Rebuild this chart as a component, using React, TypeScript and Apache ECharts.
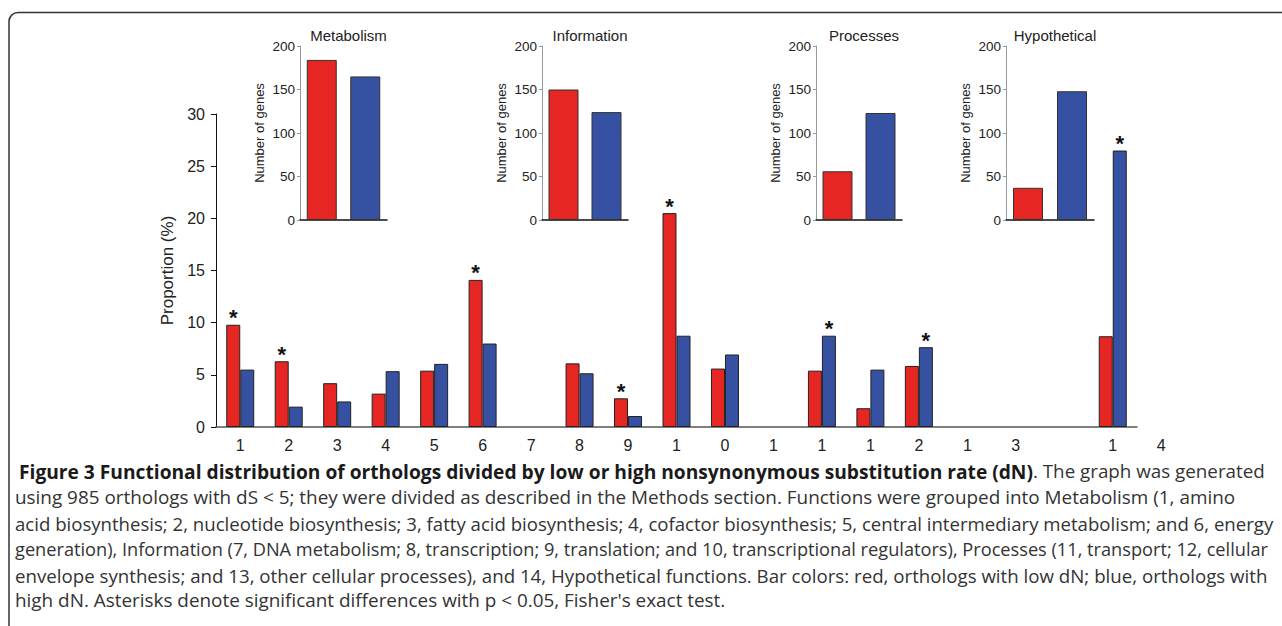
import React, { useEffect, useRef } from "react";
import * as echarts from "echarts";

// ---- Main chart data ----
const xTickLabels = ["1", "2", "3", "4", "5", "6", "7", "8", "9", "1", "0", "1", "1", "1", "2", "1", "3", "", "1"];
const extraTickLabel = "4";
const lowDN = [9.8, 6.3, 4.2, 3.2, 5.4, 14.1, null, 6.1, 2.75, 20.5, 5.6, null, 5.4, 1.8, 5.85, null, null, null, 8.7];
const highDN = [5.5, 1.95, 2.45, 5.35, 6.05, 8.0, null, 5.15, 1.05, 8.75, 6.95, null, 8.75, 5.5, 7.65, null, null, null, 26.5];
const sigLow = [0, 1, 5, 8, 9];
const sigHigh = [12, 14, 18];
const yTicks = { min: 0, max: 30, interval: 5 };

// ---- Inset data ----
const insetTitles = ["Metabolism", "Information", "Processes", "Hypothetical"];
const insetLow = [184, 150, 56, 37];
const insetHigh = [165, 124, 123, 148];
const insetTicks = { min: 0, max: 200, interval: 50 };

// ---- Caption ----
const captionBold = "Figure 3 Functional distribution of orthologs divided by low or high nonsynonymous substitution rate (dN)";
const captionLines = [
  ". The graph was generated",
  "using 985 orthologs with dS < 5; they were divided as described in the Methods section. Functions were grouped into Metabolism (1, amino",
  "acid biosynthesis; 2, nucleotide biosynthesis; 3, fatty acid biosynthesis; 4, cofactor biosynthesis; 5, central intermediary metabolism; and 6, energy",
  "generation), Information (7, DNA metabolism; 8, transcription; 9, translation; and 10, transcriptional regulators), Processes (11, transport; 12, cellular",
  "envelope synthesis; and 13, other cellular processes), and 14, Hypothetical functions. Bar colors: red, orthologs with low dN; blue, orthologs with",
  "high dN. Asterisks denote significant differences with p < 0.05, Fisher's exact test.",
];

const RED = "#E52623";
const BLUE = "#3651A1";
const FONT = "'Liberation Sans', Arial, sans-serif";
const CAPFONT = "'Open Sans', sans-serif";

export default function App() {
  const ref = useRef<HTMLDivElement>(null);
  useEffect(() => {
    document.body.style.margin = "0";
    const chart = echarts.init(ref.current!, null, { renderer: "svg" });

    const mainGrid = { left: 216, top: 114, width: 921, height: 313 };
    const insetGrids = [
      { left: 300, top: 46, width: 87, height: 174 },
      { left: 542, top: 46, width: 86, height: 174 },
      { left: 816, top: 46, width: 86, height: 174 },
      { left: 1006, top: 46, width: 88, height: 174 },
    ];

    const grids: any[] = [mainGrid, ...insetGrids];
    const xAxes: any[] = [
      {
        type: "category",
        gridIndex: 0,
        data: xTickLabels,
        axisLine: { lineStyle: { color: "#555", width: 1.5 } },
        axisTick: { show: false },
        axisLabel: { color: "#222", fontSize: 16, fontFamily: FONT, margin: 10, interval: 0 },
      },
    ];
    const yAxes: any[] = [
      {
        type: "value",
        gridIndex: 0,
        min: yTicks.min,
        max: yTicks.max,
        interval: yTicks.interval,
        name: "Proportion (%)",
        nameLocation: "middle",
        nameGap: 36,
        nameTextStyle: { color: "#222", fontSize: 17, fontFamily: FONT },
        axisLine: { show: true, lineStyle: { color: "#111", width: 1 } },
        axisTick: { show: true, length: 5, lineStyle: { color: "#111" } },
        axisLabel: { color: "#222", fontSize: 16, fontFamily: FONT, margin: 11 },
        splitLine: { show: false },
      },
    ];

    const asteriskLabel = (sig: number[]) => ({
      show: true,
      position: "top",
      distance: -4,
      formatter: (p: any) => (sig.includes(p.dataIndex) ? "*" : ""),
      color: "#111",
      fontSize: 22,
      fontWeight: "bold",
      fontFamily: FONT,
    });

    const series: any[] = [
      {
        type: "bar",
        name: "low dN",
        xAxisIndex: 0,
        yAxisIndex: 0,
        data: lowDN,
        barWidth: 14,
        barGap: "0%",
        itemStyle: { color: RED, borderColor: "#222", borderWidth: 1 },
        label: asteriskLabel(sigLow),
      },
      {
        type: "bar",
        name: "high dN",
        xAxisIndex: 0,
        yAxisIndex: 0,
        data: highDN,
        barWidth: 14,
        barGap: "0%",
        itemStyle: { color: BLUE, borderColor: "#222", borderWidth: 1 },
        label: asteriskLabel(sigHigh),
      },
    ];

    const graphics: any[] = [];

    insetTitles.forEach((t, i) => {
      const gi = i + 1;
      xAxes.push({
        type: "category",
        gridIndex: gi,
        data: ["low dN", "high dN"],
        axisLine: { lineStyle: { color: "#111", width: 1.5 } },
        axisTick: { show: false },
        axisLabel: { show: false },
      });
      yAxes.push({
        type: "value",
        gridIndex: gi,
        min: insetTicks.min,
        max: insetTicks.max,
        interval: insetTicks.interval,
        name: "Number of genes",
        nameLocation: "middle",
        nameGap: 34,
        nameTextStyle: { color: "#222", fontSize: 13, fontFamily: FONT },
        axisLine: { show: true, lineStyle: { color: "#999", width: 1 } },
        axisTick: { show: true, length: 3, lineStyle: { color: "#999" } },
        axisLabel: { color: "#222", fontSize: 13.5, fontFamily: FONT, margin: 5 },
        splitLine: { show: false },
      });
      series.push({
        type: "bar",
        name: t,
        xAxisIndex: gi,
        yAxisIndex: gi,
        barWidth: 30,
        data: [
          { value: insetLow[i], itemStyle: { color: RED } },
          { value: insetHigh[i], itemStyle: { color: BLUE } },
        ],
        itemStyle: { borderColor: "#333", borderWidth: 1 },
      });
      const g = insetGrids[i];
      graphics.push({
        type: "text",
        x: g.left + g.width / 2 + 5,
        y: 35,
        style: {
          text: t,
          align: "center",
          verticalAlign: "middle",
          fontSize: 15,
          fontFamily: FONT,
          fill: "#222",
        },
      });
    });

    // extra trailing tick label beyond the axis end
    graphics.push({
      type: "text",
      x: mainGrid.left + (mainGrid.width / xTickLabels.length) * (xTickLabels.length + 0.5),
      y: mainGrid.top + mainGrid.height + 10,
      style: {
        text: extraTickLabel,
        align: "center",
        verticalAlign: "top",
        fontSize: 16,
        fontFamily: FONT,
        fill: "#222",
      },
    });

    // frame
    graphics.push({
      type: "rect",
      shape: { x: 9, y: 12.5, width: 1300, height: 700, r: 9 },
      style: { fill: "none", stroke: "#333", lineWidth: 1.5 },
      silent: true,
    });

    // caption
    const capY = [471, 497, 523, 549, 575, 600];
    const capSize = [18.8, 18.9, 18.6, 18.2, 18.7, 18.9];
    graphics.push({
      type: "text",
      x: 19,
      y: capY[0],
      style: {
        text: `{b|${captionBold}}{r|${captionLines[0]}}`,
        verticalAlign: "middle",
        rich: {
          b: { fontWeight: "bold", fontSize: 19.2, fontFamily: CAPFONT, fill: "#1a1a1a" },
          r: { fontSize: capSize[0], fontFamily: CAPFONT, fill: "#333" },
        },
      },
    });
    for (let i = 1; i < captionLines.length; i++) {
      graphics.push({
        type: "text",
        x: 15,
        y: capY[i],
        style: {
          text: captionLines[i],
          verticalAlign: "middle",
          fontSize: capSize[i],
          fontFamily: CAPFONT,
          fill: "#333",
        },
      });
    }

    chart.setOption({
      animation: false,
      grid: grids,
      xAxis: xAxes,
      yAxis: yAxes,
      series,
      graphic: graphics,
    });
    return () => chart.dispose();
  }, []);
  return <div ref={ref} style={{ width: 1282, height: 626 }} />;
}
